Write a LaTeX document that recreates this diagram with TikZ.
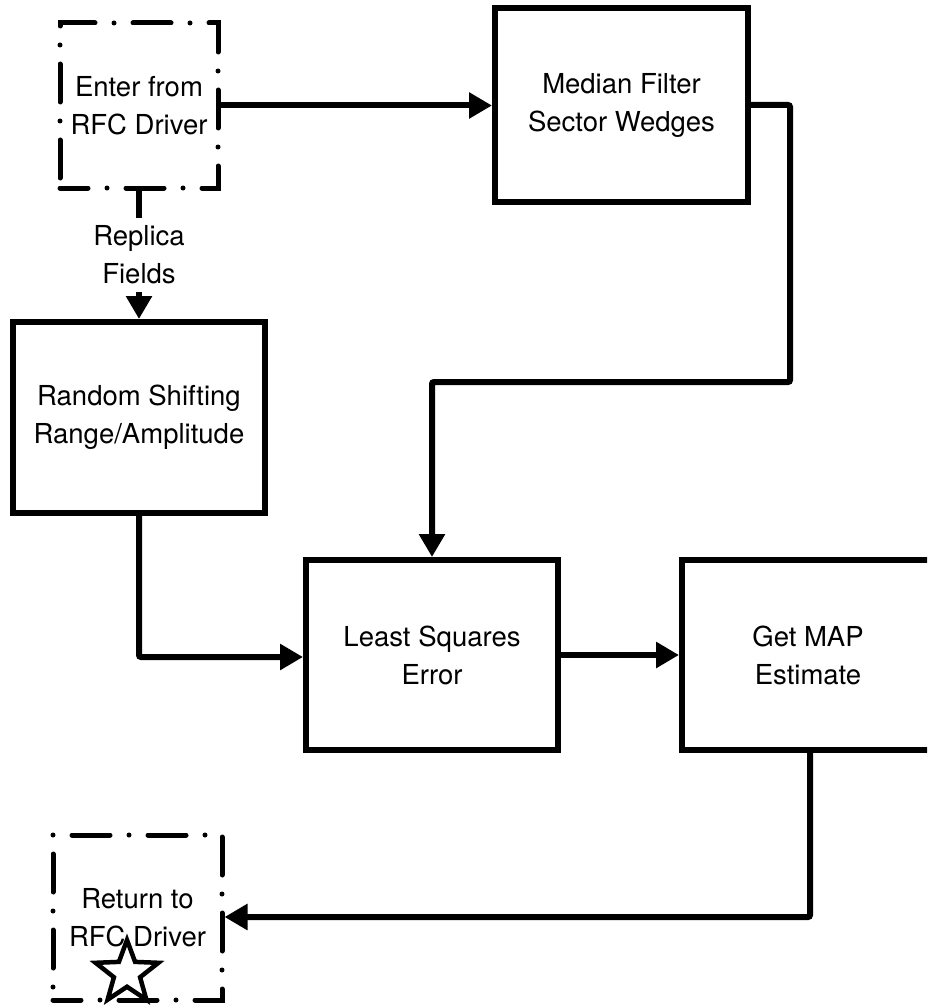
\documentclass[tikz,border=0pt]{standalone}
\usepackage{fontspec}
\setmainfont{TeX Gyre Heros}
\usetikzlibrary{arrows.meta,shapes.geometric}
\begin{document}
\begin{tikzpicture}[x=1pt,y=-1pt,
  txt/.style={align=center,font=\fontsize{27.5}{38}\selectfont},
  blk/.style={txt,draw,line width=6pt,rectangle,inner sep=0pt},
  dbox/.style={txt,draw,line width=5pt,line cap=round,dash pattern=on 38pt off 19pt on 0pt off 19pt,dash phase=10pt,rectangle,inner sep=0pt},
  conn/.style={line width=6pt,-{Triangle[length=23pt,width=25pt]}},
  ]
\useasboundingbox (0,0) rectangle (927,1006);
\clip (0,0) rectangle (927,1006);

\node[dbox,minimum width=158pt,minimum height=165pt] (enter) at (139,105.5) {Enter from\\RFC Driver};
\node[blk,minimum width=253pt,minimum height=194pt] (median) at (621.5,105) {Median Filter\\Sector Wedges};
\node[blk,minimum width=252pt,minimum height=191pt] (random) at (139,417.5) {Random Shifting\\Range/Amplitude};
\node[blk,minimum width=252pt,minimum height=190pt] (ls) at (432,655) {Least Squares\\Error};
\node[blk,minimum width=252pt,minimum height=190pt] (map) at (808,655) {Get MAP\\Estimate};
\node[star,star points=5,star point ratio=2.4,draw,line width=4.5pt,minimum size=66pt,inner sep=0pt] (star) at (127,973) {};
\node[dbox,minimum width=169pt,minimum height=165pt] (ret) at (137.5,917.5) {Return to\\RFC Driver};

\coordinate (c1) at (790,105);
\coordinate (c2) at (790,382);
\coordinate (c3) at (432,382);
\coordinate (c4) at (139,657);
\coordinate (c5) at (810,917);

\draw[conn] (enter.east) -- (median.west |- enter.east);
\draw[conn] (enter.south) -- node[txt,fill=white,inner sep=8pt] (lab) {Replica\\Fields} (random.north -| enter.south);
\draw[conn,rounded corners=2pt] (median.east) -- (c1) -- (c2) -- (c3) -- (ls.north);
\draw[conn,rounded corners=2pt] (random.south -| c4) -- (c4) -- (ls.west |- c4);
\draw[conn] (ls.east) -- (map.west);
\draw[conn,rounded corners=2pt] (map.south -| c5) -- (c5) -- (ret.east |- c5);
\end{tikzpicture}
\end{document}
